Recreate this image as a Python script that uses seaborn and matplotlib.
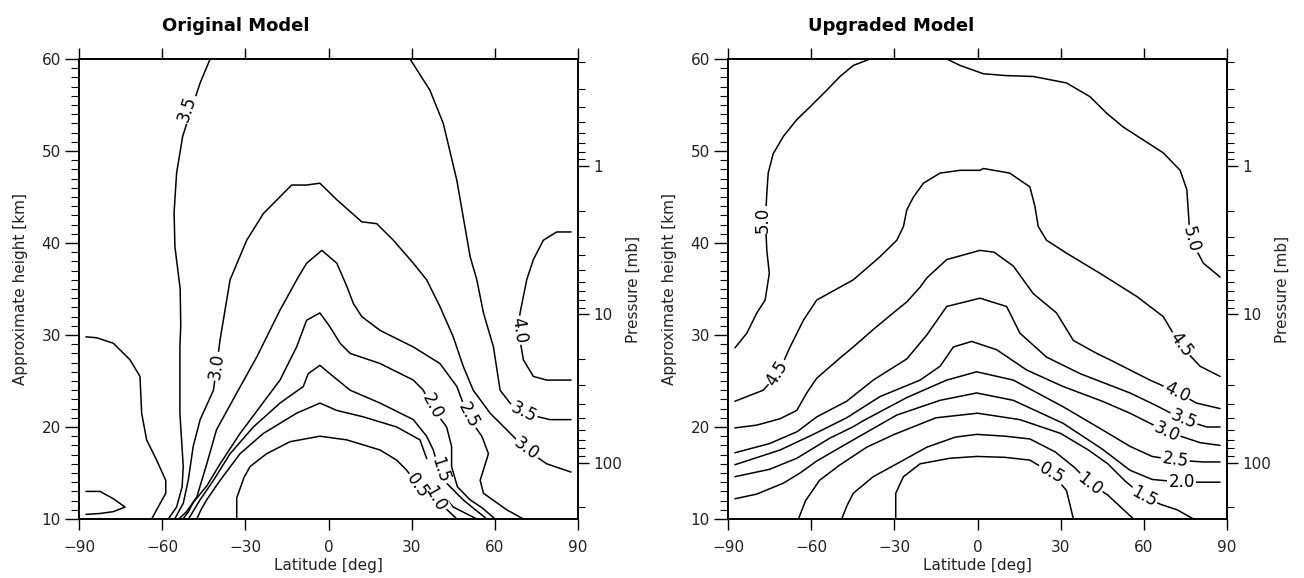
import numpy as np
import pandas as pd
import matplotlib

matplotlib.use('Agg')
import matplotlib.pyplot as plt
import matplotlib.ticker as mticker
import seaborn as sns

# contour lines, as (latitude [deg], height [km])
# --- Original Model ---
ORIG_05 = [(-33.1, 10.0), (-33.1, 12.3), (-30.5, 14.5), (-28.3, 15.7), (-22.3, 17.1), (-13.9, 18.4),
           (-3.1, 19.0), (6.6, 18.6), (18.6, 17.5), (24.6, 16.4), (28.2, 15.3), (31.8, 13.9),
           (39.0, 12.1), (46.3, 10.0)]
ORIG_10 = [(-47.5, 10.0), (-46.0, 11.0), (-43.9, 12.1), (-39.1, 14.2), (-31.9, 17.1), (-23.5, 19.3),
           (-11.5, 21.5), (-3.1, 22.6), (3.0, 21.8), (12.6, 21.1), (24.6, 20.0), (33.0, 18.6),
           (35.5, 16.5), (38.5, 14.5), (41.0, 12.7), (45.0, 11.3), (53.5, 10.0)]
ORIG_15 = [(-50.5, 10.0), (-48.5, 11.0), (-46.3, 12.1), (-41.5, 14.2), (-35.5, 17.1), (-27.1, 20.0),
           (-17.5, 22.6), (-9.1, 24.4), (-7.3, 25.8), (-3.1, 26.7), (1.7, 25.5), (7.8, 24.0),
           (18.6, 22.6), (30.6, 20.8), (35.4, 19.0), (37.8, 17.5), (39.5, 15.7), (42.6, 13.9),
           (48.5, 12.1), (53.0, 11.0), (57.1, 10.0)]
ORIG_20 = [(-52.5, 10.0), (-50.5, 10.8), (-48.8, 11.8), (-43.9, 13.6), (-39.1, 16.0), (-31.9, 19.3),
           (-24.7, 22.2), (-17.5, 25.1), (-11.5, 28.7), (-7.9, 31.6), (-3.1, 32.4), (0.5, 30.9),
           (4.2, 29.1), (7.8, 28.0), (18.6, 26.9), (30.6, 25.1), (34.2, 24.0), (37.2, 22.2),
           (42.6, 20.0), (44.4, 17.9), (44.4, 15.7), (46.5, 13.5), (51.0, 12.1), (55.5, 11.2),
           (60.1, 10.0)]
ORIG_25 = [(-54.0, 10.0), (-51.2, 10.8), (-47.5, 12.4), (-43.9, 16.0), (-40.4, 19.7), (-33.1, 23.7),
           (-25.9, 27.6), (-17.5, 32.7), (-10.9, 36.3), (-7.9, 37.8), (-2.4, 39.2), (3.0, 37.8),
           (6.6, 35.3), (9.0, 33.4), (12.0, 32.0), (18.6, 30.5), (30.6, 28.7), (40.2, 26.9),
           (46.3, 24.4), (50.4, 21.1), (55.3, 19.0), (57.7, 17.1), (54.7, 14.2), (55.9, 12.8),
           (64.3, 11.0), (70.3, 10.0)]
ORIG_30 = [(-55.5, 10.0), (-52.4, 11.7), (-50.6, 14.2), (-48.8, 17.9), (-46.3, 20.8), (-41.5, 24.0),
           (-39.1, 29.5), (-35.5, 36.0), (-29.5, 40.3), (-23.5, 43.2), (-13.3, 46.3), (-7.9, 46.3),
           (-3.1, 46.5), (3.0, 44.7), (12.0, 42.3), (17.4, 42.1), (23.4, 40.3), (30.6, 37.8),
           (35.4, 36.0), (40.2, 33.1), (45.0, 29.8), (48.6, 26.6), (52.2, 24.0), (58.3, 21.5),
           (64.3, 19.7), (71.5, 17.5), (78.7, 16.0), (87.5, 15.1)]
ORIG_35W = [(-42.7, 60.0), (-46.3, 57.4), (-49.5, 54.5), (-52.6, 51.6), (-54.8, 47.6), (-55.7, 43.3),
            (-55.4, 39.6), (-53.5, 35.0), (-53.3, 31.0), (-53.6, 28.7), (-53.6, 21.5), (-52.4, 15.7),
            (-52.8, 13.5), (-54.8, 11.3), (-57.8, 10.0)]
ORIG_35E = [(29.4, 60.0), (36.6, 56.6), (41.4, 53.0), (46.3, 46.8), (51.1, 38.5), (53.5, 36.0),
            (55.9, 32.4), (59.5, 28.7), (61.9, 24.0), (65.5, 22.6), (70.3, 21.5), (79.9, 20.8),
            (87.5, 20.8)]
ORIG_40W = [(-87.5, 29.8), (-83.6, 29.7), (-77.6, 29.1), (-71.6, 27.3), (-68.0, 25.5), (-67.4, 21.5),
            (-65.6, 18.6), (-62.0, 16.4), (-58.7, 14.2), (-58.7, 12.8), (-62.0, 11.0), (-63.8, 10.0)]
ORIG_40E = [(87.5, 41.2), (82.3, 41.2), (77.5, 40.3), (73.9, 38.2), (71.5, 36.0), (69.1, 32.4),
            (68.5, 30.5), (70.3, 27.3), (73.9, 25.5), (78.7, 25.1), (87.5, 25.1)]
ORIG_45 = [(-87.5, 13.0), (-82.4, 13.0), (-77.6, 12.2), (-73.4, 11.3), (-77.6, 10.8), (-82.4, 10.6),
           (-87.5, 10.5)]

ORIG_LABEL_TEXT = ['3.5', '3.0', '2.0', '2.5', '3.5', '3.0', '4.0', '1.5', '1.0', '0.5']
ORIG_LABEL_POS = [(-51.0, 54.6), (-40.3, 26.6), (37.4, 22.2), (50.6, 21.3), (70.3, 21.6),
                  (71.5, 17.6), (68.8, 30.5), (40.3, 15.3), (38.6, 12.2), (32.0, 13.6)]
ORIG_LABEL_ROT = [72, 82, -62, -62, -26, -36, -82, -72, -60, -55]

# --- Upgraded Model ---
UPG_05 = [(-29.5, 10.0), (-29.5, 12.8), (-26.7, 14.6), (-20.7, 16.0), (-10.0, 16.6), (-0.3, 16.8),
          (10.0, 16.7), (18.9, 16.4), (26.7, 15.0), (32.1, 13.1), (34.6, 10.0)]
UPG_10 = [(-49.0, 10.0), (-47.0, 11.5), (-44.8, 12.8), (-37.6, 14.6), (-27.9, 16.2), (-18.3, 17.8),
          (-8.0, 18.9), (-0.3, 19.2), (10.0, 19.0), (18.9, 18.7), (28.0, 17.3), (35.0, 15.6),
          (40.6, 13.9), (47.0, 12.6), (56.3, 10.0)]
UPG_15 = [(-64.6, 10.0), (-62.0, 12.0), (-57.0, 14.2), (-50.0, 15.8), (-40.0, 17.8), (-30.0, 19.2),
          (-15.0, 21.0), (0.0, 21.5), (15.3, 20.8), (30.0, 19.3), (40.0, 17.5), (47.0, 16.0),
          (53.0, 14.2), (60.0, 12.4), (66.0, 11.6), (72.0, 11.0), (77.9, 10.0)]
UPG_20 = [(-87.5, 12.2), (-79.7, 12.7), (-70.0, 13.9), (-64.0, 15.0), (-58.0, 16.3), (-50.0, 17.7),
          (-44.8, 18.6), (-29.1, 21.3), (-13.5, 22.9), (-0.3, 23.7), (12.9, 22.9), (30.9, 20.4),
          (45.0, 17.6), (55.0, 15.3), (63.0, 14.3), (73.7, 14.0), (87.5, 14.0)]
UPG_25 = [(-87.5, 14.6), (-75.0, 15.4), (-65.2, 16.6), (-53.2, 18.8), (-45.0, 20.0), (-41.1, 20.7),
          (-25.5, 23.2), (-11.1, 25.1), (-0.3, 26.0), (12.9, 25.1), (30.9, 22.2), (45.0, 19.7),
          (55.0, 17.9), (63.0, 16.8), (71.3, 16.4), (81.5, 16.2), (87.5, 16.2)]
UPG_30 = [(-87.5, 15.9), (-71.2, 17.5), (-59.2, 19.2), (-47.2, 21.0), (-35.2, 23.3), (-20.7, 25.1),
          (-13.5, 26.6), (-8.7, 28.7), (-2.1, 29.3), (6.9, 28.4), (17.7, 26.2), (30.9, 24.4),
          (45.0, 22.8), (55.0, 21.5), (68.2, 19.5), (80.3, 18.3), (87.5, 18.0)]
UPG_35 = [(-87.5, 17.2), (-75.0, 18.2), (-65.0, 19.5), (-58.0, 21.1), (-47.2, 22.8), (-37.6, 25.1),
          (-25.5, 27.4), (-18.3, 30.0), (-11.1, 33.1), (0.9, 34.0), (10.5, 33.1), (15.3, 30.2),
          (24.9, 27.6), (37.0, 25.8), (55.0, 23.7), (64.0, 22.4), (74.3, 20.8), (82.7, 20.0),
          (87.5, 20.0)]
UPG_40 = [(-87.5, 19.9), (-79.7, 20.2), (-71.2, 20.9), (-65.2, 21.8), (-61.6, 23.7), (-58.0, 25.3),
          (-49.6, 27.5), (-44.8, 28.7), (-37.6, 30.6), (-30.4, 32.4), (-25.5, 33.6), (-20.7, 35.2),
          (-18.3, 36.2), (-11.1, 38.2), (0.9, 39.2), (6.0, 39.0), (12.9, 37.5), (20.1, 34.5),
          (28.5, 32.4), (34.6, 29.4), (43.0, 28.0), (47.8, 27.3), (55.0, 26.2), (62.2, 25.1),
          (71.9, 23.8), (79.0, 22.6), (87.5, 22.0)]
UPG_45 = [(-87.5, 22.8), (-77.3, 24.0), (-71.9, 25.8), (-67.6, 28.7), (-62.8, 31.6), (-58.0, 33.8),
          (-44.8, 36.0), (-35.2, 38.5), (-29.1, 40.3), (-26.7, 41.8), (-25.5, 43.6), (-23.1, 45.0),
          (-19.5, 46.5), (-13.5, 47.6), (-6.3, 47.9), (0.9, 47.9), (2.1, 48.1), (11.6, 47.6),
          (18.9, 46.1), (20.7, 44.0), (21.9, 41.8), (24.9, 40.3), (32.1, 38.9), (44.2, 36.7),
          (57.4, 34.2), (67.0, 32.0), (73.1, 28.9), (80.3, 26.6), (87.5, 25.5)]
UPG_50W = [(-38.8, 60.0), (-44.8, 59.3), (-49.6, 58.1), (-54.4, 56.6), (-60.4, 54.8), (-65.2, 53.4),
           (-70.0, 51.6), (-73.7, 49.7), (-75.5, 47.6), (-76.0, 45.4), (-76.5, 42.5), (-76.0, 39.2),
           (-75.1, 36.7), (-76.6, 33.8), (-79.6, 32.4), (-83.2, 30.2), (-87.5, 28.6)]
UPG_50E = [(-11.0, 60.0), (-6.3, 59.3), (2.1, 58.4), (10.0, 58.2), (20.1, 58.1), (32.1, 57.4),
           (40.6, 55.9), (46.6, 54.1), (52.6, 52.6), (59.8, 51.2), (67.0, 49.8), (73.1, 47.9),
           (75.5, 45.8), (76.1, 43.2), (76.7, 40.5), (81.5, 37.8), (87.5, 36.3)]

UPG_LABEL_TEXT = ['5.0', '4.5', '5.0', '4.5', '4.0', '3.5', '3.0', '2.5', '2.0', '1.5', '1.0', '0.5']
UPG_LABEL_POS = [(-77.3, 42.5), (-72.2, 25.9), (77.0, 40.4), (73.3, 29.0), (71.9, 23.8), (74.3, 20.8),
                 (68.2, 19.5), (71.3, 16.4), (73.7, 14.0), (60.0, 12.4), (40.6, 13.8), (26.7, 15.0)]
UPG_LABEL_ROT = [90, 58, -75, -53, -26, -22, -25, -8, 0, -28, -38, -30]

LAT_TICKS = [-90, -60, -30, 0, 30, 60, 90]
HGT_TICKS = [10, 20, 30, 40, 50, 60]
P_TICKS = [1, 10, 100]
P_TICK_LABELS = ['1', '10', '100']

SCALE_H = 7.0  # km, height = SCALE_H * ln(1000 / p)


def curves_frame(curves):
    rows = []
    for i, pts in enumerate(curves):
        for lat, h in pts:
            rows.append((i, lat, h))
    return pd.DataFrame(rows, columns=['seg', 'lat', 'hgt'])


def pressure_at(h):
    return 1000.0 * np.exp(-h / SCALE_H)


def draw_panel(ax, curves, texts, positions, rotations):
    df = curves_frame(curves)
    sns.lineplot(data=df, x='lat', y='hgt', units='seg', estimator=None, sort=False,
                 color='black', linewidth=1.1, legend=False, ax=ax)

    # white boxes first, then the numbers, so overlapping labels stay readable
    for txt, (lat, h), rot in zip(texts, positions, rotations):
        ax.text(lat, h, txt, color='none', fontsize=12, rotation=rot, rotation_mode='anchor',
                ha='center', va='center', zorder=3,
                bbox=dict(facecolor='white', edgecolor='none', pad=1.0))
    for txt, (lat, h), rot in zip(texts, positions, rotations):
        ax.text(lat, h, txt, color='black', fontsize=12, rotation=rot, rotation_mode='anchor',
                ha='center', va='center', zorder=4)

    ax.set_xlim(-90, 90)
    ax.set_ylim(10, 60)
    ax.set_xticks(LAT_TICKS)
    ax.set_yticks(HGT_TICKS)
    ax.yaxis.set_minor_locator(mticker.MultipleLocator(1))
    ax.xaxis.set_minor_locator(mticker.NullLocator())
    ax.tick_params(axis='x', which='major', direction='out', length=8, width=1,
                   top=True, bottom=True, labeltop=False, labelsize=11, pad=7,
                   color='black', labelcolor='#222222')
    ax.tick_params(axis='y', which='major', direction='out', length=10, width=1,
                   left=True, right=False, labelsize=11, pad=3,
                   color='black', labelcolor='#222222')
    ax.tick_params(axis='y', which='minor', direction='out', length=6, width=0.8,
                   left=True, right=False, color='black')
    ax.set_xlabel('Latitude [deg]', fontsize=11, color='#222222')
    ax.set_ylabel('Approximate height [km]', fontsize=11, color='#222222')
    ax.xaxis.set_label_coords(0.5, -0.085)
    ax.yaxis.set_label_coords(-0.102, 0.5)
    for sp in ax.spines.values():
        sp.set_visible(True)
        sp.set_color('black')
        sp.set_linewidth(1.2)

    tw = ax.twinx()
    tw.set_yscale('log')
    tw.set_ylim(pressure_at(10), pressure_at(60))
    tw.yaxis.set_major_locator(mticker.FixedLocator(P_TICKS))
    tw.yaxis.set_major_formatter(mticker.FixedFormatter(P_TICK_LABELS))
    tw.yaxis.set_minor_locator(mticker.LogLocator(base=10, subs=np.arange(2, 10)))
    tw.yaxis.set_minor_formatter(mticker.NullFormatter())
    tw.tick_params(axis='y', which='major', direction='out', length=8, width=1,
                   labelsize=11, pad=3, color='black', labelcolor='#222222')
    tw.tick_params(axis='y', which='minor', direction='out', length=5, width=0.8, color='black')
    tw.set_ylabel('Pressure [mb]', fontsize=11, color='#222222')
    tw.yaxis.set_label_coords(1.096, 0.5)
    for sp in tw.spines.values():
        sp.set_color('black')
        sp.set_linewidth(1.2)


sns.set_style('ticks')
plt.rcParams['font.family'] = ['DejaVu Sans']

fig = plt.figure(figsize=(13.04, 5.78), dpi=100)
ax1 = fig.add_axes([79 / 1304, 59 / 578, 499 / 1304, 460 / 578])
ax2 = fig.add_axes([728 / 1304, 59 / 578, 499 / 1304, 460 / 578])

draw_panel(ax1, [ORIG_05, ORIG_10, ORIG_15, ORIG_20, ORIG_25, ORIG_30, ORIG_35W, ORIG_35E,
                 ORIG_40W, ORIG_40E, ORIG_45],
           ORIG_LABEL_TEXT, ORIG_LABEL_POS, ORIG_LABEL_ROT)
draw_panel(ax2, [UPG_05, UPG_10, UPG_15, UPG_20, UPG_25, UPG_30, UPG_35, UPG_40, UPG_45,
                 UPG_50W, UPG_50E],
           UPG_LABEL_TEXT, UPG_LABEL_POS, UPG_LABEL_ROT)

fig.text(162 / 1304, 1 - 31 / 578, 'Original Model', fontsize=13, fontweight='bold',
         va='baseline', color='black')
fig.text(808 / 1304, 1 - 31 / 578, 'Upgraded Model', fontsize=13, fontweight='bold',
         va='baseline', color='black')

fig.savefig('out.png', dpi=100)
